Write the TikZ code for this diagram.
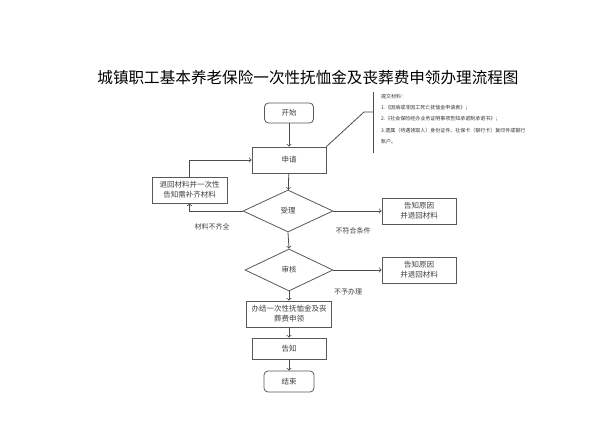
\documentclass[tikz,border=0pt]{standalone}
\usepackage{fontspec}
\setmainfont{Noto Sans CJK SC}
\usepackage{tikz}
\usetikzlibrary{positioning,shapes.geometric}

\tikzset{
  box/.style={rectangle,draw=black!65,line width=0.8pt,inner sep=0pt,font=\fontsize{7.5}{10}\selectfont,text=black!75,align=center},
  roundbox/.style={box,rounded corners=4pt},
  check/.style={diamond,draw=black!65,line width=0.8pt,inner sep=0pt,aspect=2.1,font=\fontsize{7.5}{10}\selectfont,text=black!75},
  note/.style={font=\fontsize{7}{9}\selectfont,text=black!75},
  flow/.style={->,draw=black!70,line width=0.8pt}
}

\begin{document}
\begin{tikzpicture}[x=1pt,y=-1pt]
  \useasboundingbox[fill=white] (0,0) rectangle (616,436);
  %Title
  \node at (308,78) (title) {\fontsize{15.6}{18}\selectfont 城镇职工基本养老保险一次性抚恤金及丧葬费申领办理流程图};

  %Nodes
  \node at (289,113) [roundbox,minimum width=49,minimum height=20] (start) {开始};
  \node at (289,160) [box,minimum width=74,minimum height=26] (apply) {申请};
  \node at (189.5,190) [box,minimum width=75,minimum height=26] (back) {退回材料并一次性\\告知需补齐材料};
  \node at (288,211) [check,minimum width=90,minimum height=42] (accept) {受理};
  \node at (419,211) [box,minimum width=74,minimum height=26] (reason1) {告知原因\\并退回材料};
  \node at (289,270) [check,minimum width=88,minimum height=42] (audit) {审核};
  \node at (419,270) [box,minimum width=74,minimum height=26] (reason2) {告知原因\\并退回材料};
  \node at (289,314) [box,minimum width=85,minimum height=26] (finish) {办结一次性抚恤金及丧\\葬费申领};
  \node at (289,348.5) [box,minimum width=74,minimum height=21] (notify) {告知};
  \node at (289,381.5) [roundbox,minimum width=50,minimum height=21] (end) {结束};

  %Materials
  \coordinate (bend) at (364,112);
  \coordinate (brace) at (373,112);
  \coordinate (bracetop) at (373,92);
  \coordinate (bracebot) at (373,153);
  \node at (381,94) [anchor=north west,align=left,inner sep=0pt,text=black!80,font=\fontsize{5}{11.2}\selectfont] (materials)
    {提交材料：\\
     1.《因病或非因工死亡抚恤金申请表》；\\
     2.《社会保险经办业务证明事项告知承诺制承诺书》；\\
     3.遗属（待遇领取人）身份证件、社保卡（银行卡）复印件或银行\\
     账户。};

  %Labels
  \node at (212,227) [note] (lack) {材料不齐全};
  \node at (353,231) [note] (unfit) {不符合条件};
  \node at (348,292) [note] (refuse) {不予办理};

  %Lines
  \draw[draw=black!70,line width=0.8pt] (apply.north east) -- (bend) -- (brace);
  \draw[draw=black!70,line width=0.8pt] (bracetop) -- (bracebot);
  \draw[flow] (start) -- (apply);
  \draw[flow] (apply) -- (accept);
  \draw[flow] (accept.west) -| (back.south);
  \draw[flow] (back.north) |- (apply.west);
  \draw[flow] (accept.east) -- (reason1.west);
  \draw[flow] (accept.south) -- (audit.north);
  \draw[flow] (audit.east) -- (reason2.west);
  \draw[flow] (audit.south) -- (finish.north);
  \draw[flow] (finish) -- (notify);
  \draw[flow] (notify) -- (end);
\end{tikzpicture}
\end{document}
